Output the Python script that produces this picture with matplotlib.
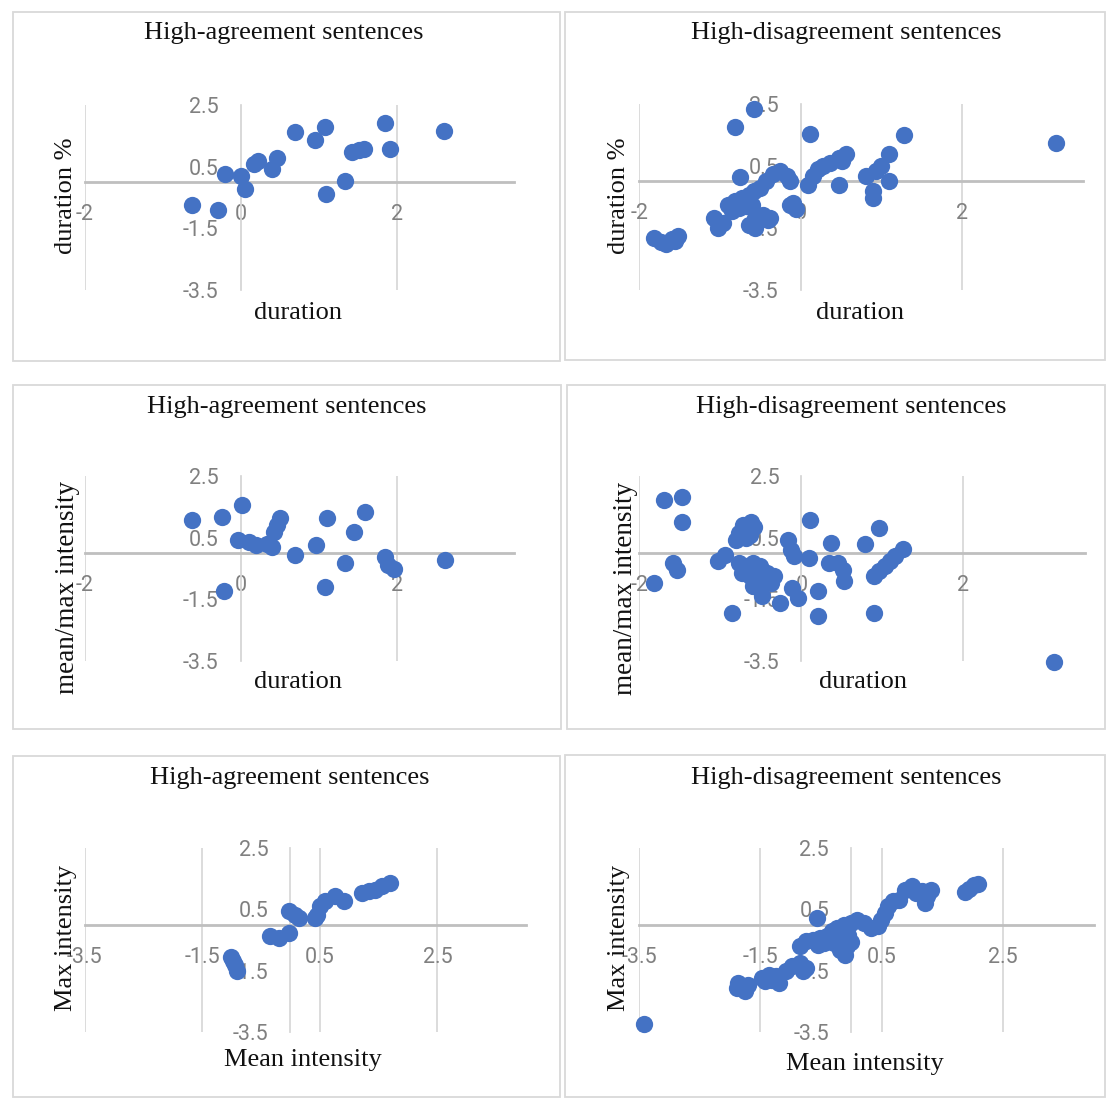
import matplotlib
matplotlib.use("Agg")
import matplotlib.pyplot as plt
from matplotlib.patches import Rectangle

# ---------------- data ----------------
titles = ["High-agreement sentences", "High-disagreement sentences"]
y_ticks = [-3.5, -1.5, 0.5, 2.5]
y_ticklabels = ["-3.5", "-1.5", "0.5", "2.5"]
dur_ticks = [-2, 0, 2]
dur_ticklabels = ["-2", "0", "2"]
int_ticks = [-3.5, -1.5, 0.5, 2.5]
int_ticklabels = ["-3.5", "-1.5", "0.5", "2.5"]

# Panel 1: high-agreement, duration vs duration %
ag_dur_x = [-0.62, -0.29, -0.20, 0.00, 0.06, 0.17, 0.22, 0.40, 0.47, 0.69, 0.95,
            1.08, 1.09, 1.33, 1.43, 1.51, 1.58, 1.85, 1.91, 2.60]
ag_durpct_y = [-0.73, -0.89, 0.27, 0.20, -0.24, 0.58, 0.68, 0.41, 0.79, 1.61, 1.36,
               1.79, -0.38, 0.03, 0.99, 1.03, 1.07, 1.93, 1.07, 1.66]

# Panel 2: high-disagreement, duration vs duration %
dis_dur_x = [-0.58, -0.81, 0.11, 1.28, 3.16, -0.75, -0.43, -0.34, -0.26, -0.17,
             -0.13, -0.09, -0.06, -0.13, 0.09, 0.15, 0.21, 0.28, 0.36, 0.47,
             0.56, 0.51, 0.47, 0.81, 0.94, 1.00, 1.09, 1.09, 0.90, 0.90,
             -1.82, -1.73, -1.67, -1.60, -1.52, -1.56, -1.07, -1.03, -0.96, -0.90,
             -0.81, -0.73, -0.64, -0.58, -0.51, -0.85, -0.77, -0.68, -0.60, -0.56,
             -0.47, -0.38, -0.64, -0.56, -0.41]
dis_durpct_y = [2.31, 1.74, 1.51, 1.48, 1.24, 0.13, 0.02, 0.22, 0.32, 0.16,
                0.00, -0.70, -0.91, -0.75, -0.11, 0.16, 0.38, 0.48, 0.59, 0.75,
                0.86, 0.65, -0.11, 0.16, 0.32, 0.48, 0.86, 0.00, -0.32, -0.54,
                -1.83, -1.97, -2.02, -1.85, -1.75, -1.92, -1.18, -1.51, -1.34, -0.75,
                -0.65, -0.54, -0.43, -0.32, -0.22, -0.97, -0.86, -0.81, -0.75, -1.18,
                -1.08, -1.18, -1.40, -1.51, -1.24]

# Panel 3: high-agreement, duration vs mean/max intensity
ag_mm_x = [-0.62, -0.24, -0.21, 0.02, -0.03, 0.10, 0.20, 0.33, 0.40, 0.43, 0.47,
           0.50, 0.70, 0.97, 1.11, 1.08, 1.33, 1.45, 1.59, 1.85, 1.89, 1.96, 2.61]
ag_mm_y = [1.07, 1.17, -1.22, 1.55, 0.41, 0.36, 0.25, 0.30, 0.20, 0.68, 0.90,
           1.14, -0.05, 0.25, 1.15, -1.11, -0.32, 0.68, 1.34, -0.13, -0.40, -0.51, -0.21]

# Panel 4: high-disagreement, duration vs mean/max intensity
dis_mm_x = [-1.69, -1.47, -1.47, -1.58, -1.54, -1.82, -0.72, -0.62, -0.58, -0.77,
            -0.68, -0.81, -0.64, -0.17, -0.13, -0.09, 0.09, 0.11, 0.36, 0.79,
            0.96, 0.34, 0.45, 0.51, 0.53, 0.90, 0.96, 1.03, 1.09, 1.15,
            1.25, 0.21, 0.21, 0.90, -0.85, -0.26, -0.11, -0.04, -0.49, -1.03,
            -0.94, -0.77, -0.68, -0.60, -0.51, -0.43, -0.34, -0.73, -0.64, -0.56,
            -0.47, -0.38, -0.60, -0.51, 3.12]
dis_mm_y = [1.72, 1.83, 1.02, -0.32, -0.54, -0.97, 0.91, 1.02, 0.86, 0.65,
            0.48, 0.43, 0.59, 0.43, 0.11, -0.11, -0.16, 1.08, 0.34, 0.29,
            0.81, -0.32, -0.32, -0.54, -0.91, -0.75, -0.59, -0.43, -0.27, -0.11,
            0.14, -1.24, -2.04, -1.94, -1.94, -1.61, -1.13, -1.45, -1.40, -0.27,
            -0.05, -0.32, -0.43, -0.32, -0.43, -0.65, -0.75, -0.65, -0.75, -0.81,
            -0.91, -0.97, -1.08, -1.18, -3.54]

# Panel 5: high-agreement, mean intensity vs max intensity
ag_mean = [-1.01, -0.98, -0.95, -0.90, -0.34, -0.19, -0.02, -0.02, 0.07, 0.15, 0.41,
           0.46, 0.51, 0.59, 0.76, 0.91, 1.22, 1.33, 1.44, 1.55, 1.69]
ag_max = [-1.07, -1.17, -1.30, -1.50, -0.36, -0.42, -0.26, 0.46, 0.33, 0.23, 0.23,
          0.33, 0.62, 0.78, 0.94, 0.78, 1.04, 1.11, 1.14, 1.27, 1.37]

# Panel 6: high-disagreement, mean intensity vs max intensity
dis_mean = [-3.42, -1.87, -1.78, -1.75, -1.89, -1.70, -1.47, -1.36, -1.25, -1.19,
            -1.30, -1.42, -1.08, -0.97, -0.85, -0.74, -0.80, -0.85, -0.74, -0.63,
            -0.52, -0.40, -0.32, -0.24, -0.12, -0.01, 0.10, 0.21, 0.33, 0.44,
            -0.57, -0.29, -0.18, -0.10, -0.07, 0.49, 0.55, 0.61, 0.69, 0.78,
            0.89, 1.00, 1.06, 1.17, 1.25, 1.31, 1.22, 1.88, 1.94, 2.03, 2.09,
            -0.45, -0.35, -0.55, -0.20, -0.05, 0.00, -0.28]
dis_max = [-3.24, -1.90, -2.01, -2.17, -2.07, -1.96, -1.74, -1.63, -1.68, -1.90,
           -1.79, -1.85, -1.52, -1.36, -1.25, -1.41, -1.52, -0.71, -0.54, -0.49,
           -0.43, -0.38, -0.22, -0.11, 0.00, 0.05, 0.16, 0.05, -0.11, -0.05,
           0.22, -0.60, -0.82, -0.98, -0.71, 0.16, 0.38, 0.60, 0.76, 0.82,
           1.14, 1.25, 1.03, 1.09, 0.92, 1.14, 0.71, 1.07, 1.17, 1.28, 1.34,
           -0.60, -0.52, -0.65, -0.40, -0.35, -0.55, -0.30]

# ---------------- figure ----------------
plt.rcParams['font.family'] = ['Roboto', 'DejaVu Sans']
W, H = 1107, 1099
fig = plt.figure(figsize=(W / 100, H / 100), dpi=100)
fig.patch.set_facecolor('white')

SERIF = 'Liberation Serif'
DOT = '#4472c4'
GRID = '#d9d9d9'


def px_axes(x0, y0, x1, y1):
    return fig.add_axes([x0 / W, 1 - y1 / H, (x1 - x0) / W, (y1 - y0) / H])


def frame(x0, y0, x1, y1):
    fig.patches.append(Rectangle((x0 / W, 1 - y1 / H), (x1 - x0) / W, (y1 - y0) / H,
                                 transform=fig.transFigure, fill=False,
                                 ec=GRID, lw=1.3, zorder=0))


def ftext(x, y, s, size=19, **kw):
    fig.text(x / W, 1 - y / H, s, ha='center', va='center', family=SERIF,
             fontsize=size, color='#111111', **kw)


def panel(box, xlim, xticks, xticklabels, xs, ys):
    ax = px_axes(*box)
    ax.set_xlim(*xlim)
    ax.set_ylim(-3.5, 2.5)
    ax.set_xticks(xticks)
    ax.set_xticklabels(xticklabels)
    ax.set_yticks(y_ticks)
    ax.set_yticklabels(y_ticklabels)
    ax.spines['left'].set_position(('data', 0))
    ax.spines['bottom'].set_position(('data', 0))
    ax.spines['right'].set_visible(False)
    ax.spines['top'].set_visible(False)
    ax.spines['left'].set_color(GRID)
    ax.spines['left'].set_linewidth(1.3)
    ax.spines['bottom'].set_color('#bfbfbf')
    ax.spines['bottom'].set_linewidth(2.0)
    ax.tick_params(axis='both', length=0, labelsize=15.5, labelcolor='#808080', pad=16)
    ax.grid(axis='x', color=GRID, lw=1.3)
    ax.set_axisbelow(True)
    ax.patch.set_alpha(0)
    ax.scatter(xs, ys, s=155, color=DOT, linewidths=0, zorder=3, clip_on=False)
    return ax


# panel frames
frame(12.5, 11.7, 560, 361)
frame(565.4, 11.7, 1105, 360)
frame(12.5, 385, 561, 729)
frame(567, 385, 1105, 729)
frame(12.5, 756, 560, 1097)
frame(565, 755, 1105, 1097)

# panels
panel((84.6, 105, 514, 290), (-2, 3.5), dur_ticks, dur_ticklabels, ag_dur_x, ag_durpct_y)
panel((639.3, 103.5, 1083, 290), (-2, 3.5), dur_ticks, dur_ticklabels, dis_dur_x, dis_durpct_y)
panel((84.6, 476, 514, 661), (-2, 3.5), dur_ticks, dur_ticklabels, ag_mm_x, ag_mm_y)
panel((639.3, 476, 1085, 661), (-2, 3.5), dur_ticks, dur_ticklabels, dis_mm_x, dis_mm_y)
panel((84.6, 848, 525.6, 1032), (-3.5, 4.0), int_ticks, int_ticklabels, ag_mean, ag_max)
panel((639, 848, 1094, 1032), (-3.5, 4.0), int_ticks, int_ticklabels, dis_mean, dis_max)

# titles
ftext(284, 33, titles[0])
ftext(846, 33, titles[1])
ftext(287, 407, titles[0])
ftext(851, 407, titles[1])
ftext(290, 778, titles[0])
ftext(846, 778, titles[1])

# x-axis titles
ftext(298, 313, "duration")
ftext(860, 313, "duration")
ftext(298, 682, "duration")
ftext(863, 682, "duration")
ftext(303, 1060, "Mean intensity")
ftext(865, 1064, "Mean intensity")

# y-axis titles
ftext(66, 196, "duration %", rotation=90)
ftext(619, 196, "duration %", rotation=90)
ftext(68, 587, "mean/max intensity", rotation=90, size=19.5)
ftext(626, 588, "mean/max intensity", rotation=90, size=19.5)
ftext(66, 938, "Max intensity", rotation=90)
ftext(619, 938, "Max intensity", rotation=90)

fig.savefig("out.png", dpi=100, facecolor='white')
